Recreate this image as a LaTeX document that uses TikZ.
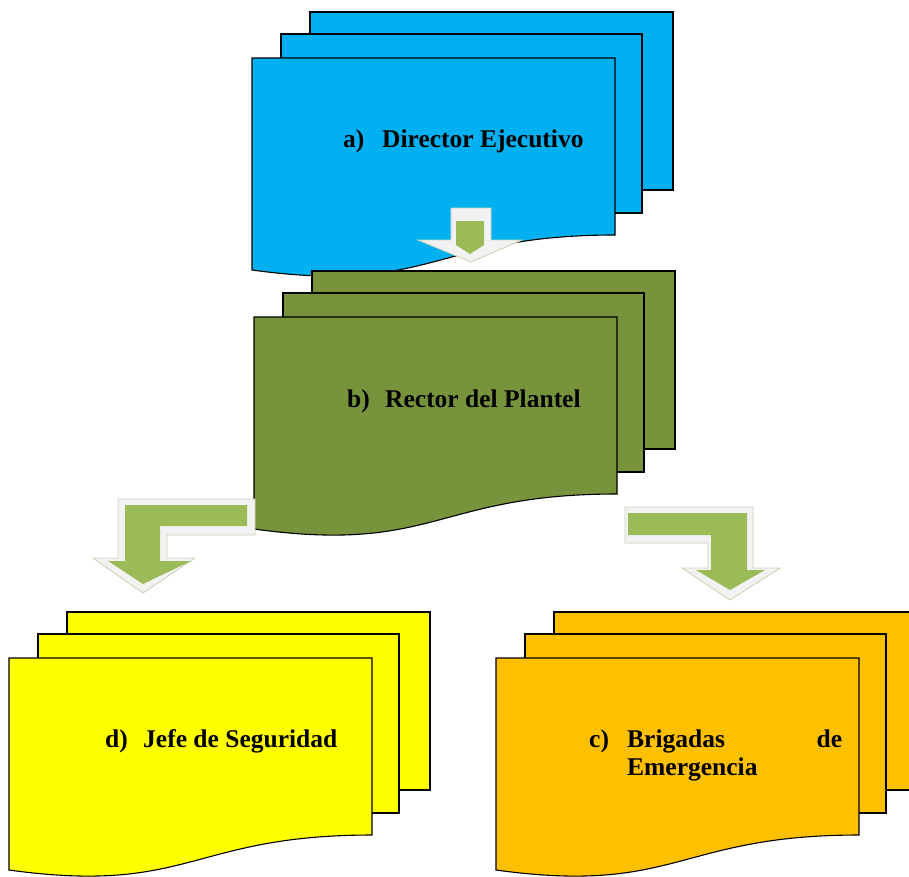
\documentclass[tikz,border=0pt]{standalone}
\usepackage{fontspec}
\setmainfont{Liberation Serif}
\definecolor{docblue}{HTML}{00B0F0}
\definecolor{docgreen}{HTML}{77933C}
\definecolor{docyellow}{HTML}{FFFF00}
\definecolor{docorange}{HTML}{FFC000}
\definecolor{arrgreen}{HTML}{9BBB59}
\definecolor{arrwhite}{HTML}{F2F2F2}
\definecolor{arredge}{HTML}{CDD5B8}
\tikzset{
  page/.style={draw=black, line width=1.1pt, line join=miter},
  arrout/.style={fill=arrwhite, draw=arredge, line width=0.9pt},
  arrin/.style={fill=arrgreen, draw=none},
  lbl/.style={font=\fontsize{25.5}{28}\selectfont\bfseries, inner sep=0pt, anchor=base west, text=black}
}
\newcommand{\multidoc}[3]{%
  \begin{scope}[shift={(#1,#2)}]
    \draw[page, fill=#3] (58,-46) rectangle (421,132);
    \draw[page, fill=#3] (29,-24) rectangle (390,155);
    \draw[page, fill=#3] (0,212) -- (0,0) -- (363,0) -- (363,177)
      .. controls (181.5,177) and (181.5,237) .. (0,212) -- cycle;
  \end{scope}}
\begin{document}
\begin{tikzpicture}[x=1pt, y=-1pt]
\useasboundingbox (0,0) rectangle (909,876);
\clip (0,0) rectangle (909,876);
\fill[white] (0,0) rectangle (909,876);

% documents
\multidoc{252}{58}{docblue}
\multidoc{254}{317}{docgreen}
\multidoc{9}{658}{docyellow}
\multidoc{496}{658}{docorange}

% labels
\node[lbl] (ta) at (343,147) {\makebox[39pt][l]{a)}Director Ejecutivo};
\node[lbl] (tb) at (347,407) {\makebox[38pt][l]{b)}Rector del Plantel};
\node[lbl] (td) at (105,747) {\makebox[38pt][l]{d)}Jefe de Seguridad};
\node[lbl] (tc) at (589,747) {\parbox[t]{260pt}{\makebox[38pt][l]{c)}\makebox[215pt][s]{Brigadas\hfill de}\\
  \hspace*{38pt}Emergencia}};

% centre arrow
\draw[arrout] (451,208) -- (491,208) -- (491,240) -- (522,240) -- (471,262)
  -- (418,240) -- (451,240) -- cycle;
\fill[arrin] (456,221) -- (484,221) -- (484,245) -- (470,254) -- (456,245) -- cycle;

% left bent arrow
\draw[arrout] (255,499) -- (118,499) -- (118,558) -- (93,558) -- (143,593)
  -- (195,558) -- (167,558) -- (167,535) -- (255,535) -- cycle;
\fill[arrin] (247,505) -- (125,505) -- (125,561) -- (108,561) -- (143,584)
  -- (191,561) -- (160,561) -- (160,526) -- (247,526) -- cycle;

% right bent arrow
\draw[arrout] (625,507) -- (753,507) -- (753,568) -- (780,568) -- (730,600)
  -- (682,568) -- (708,568) -- (708,543) -- (625,543) -- cycle;
\fill[arrin] (628,513) -- (747,513) -- (747,570) -- (765,570) -- (730,590)
  -- (696,570) -- (711,570) -- (711,535) -- (628,535) -- cycle;
\end{tikzpicture}
\end{document}
